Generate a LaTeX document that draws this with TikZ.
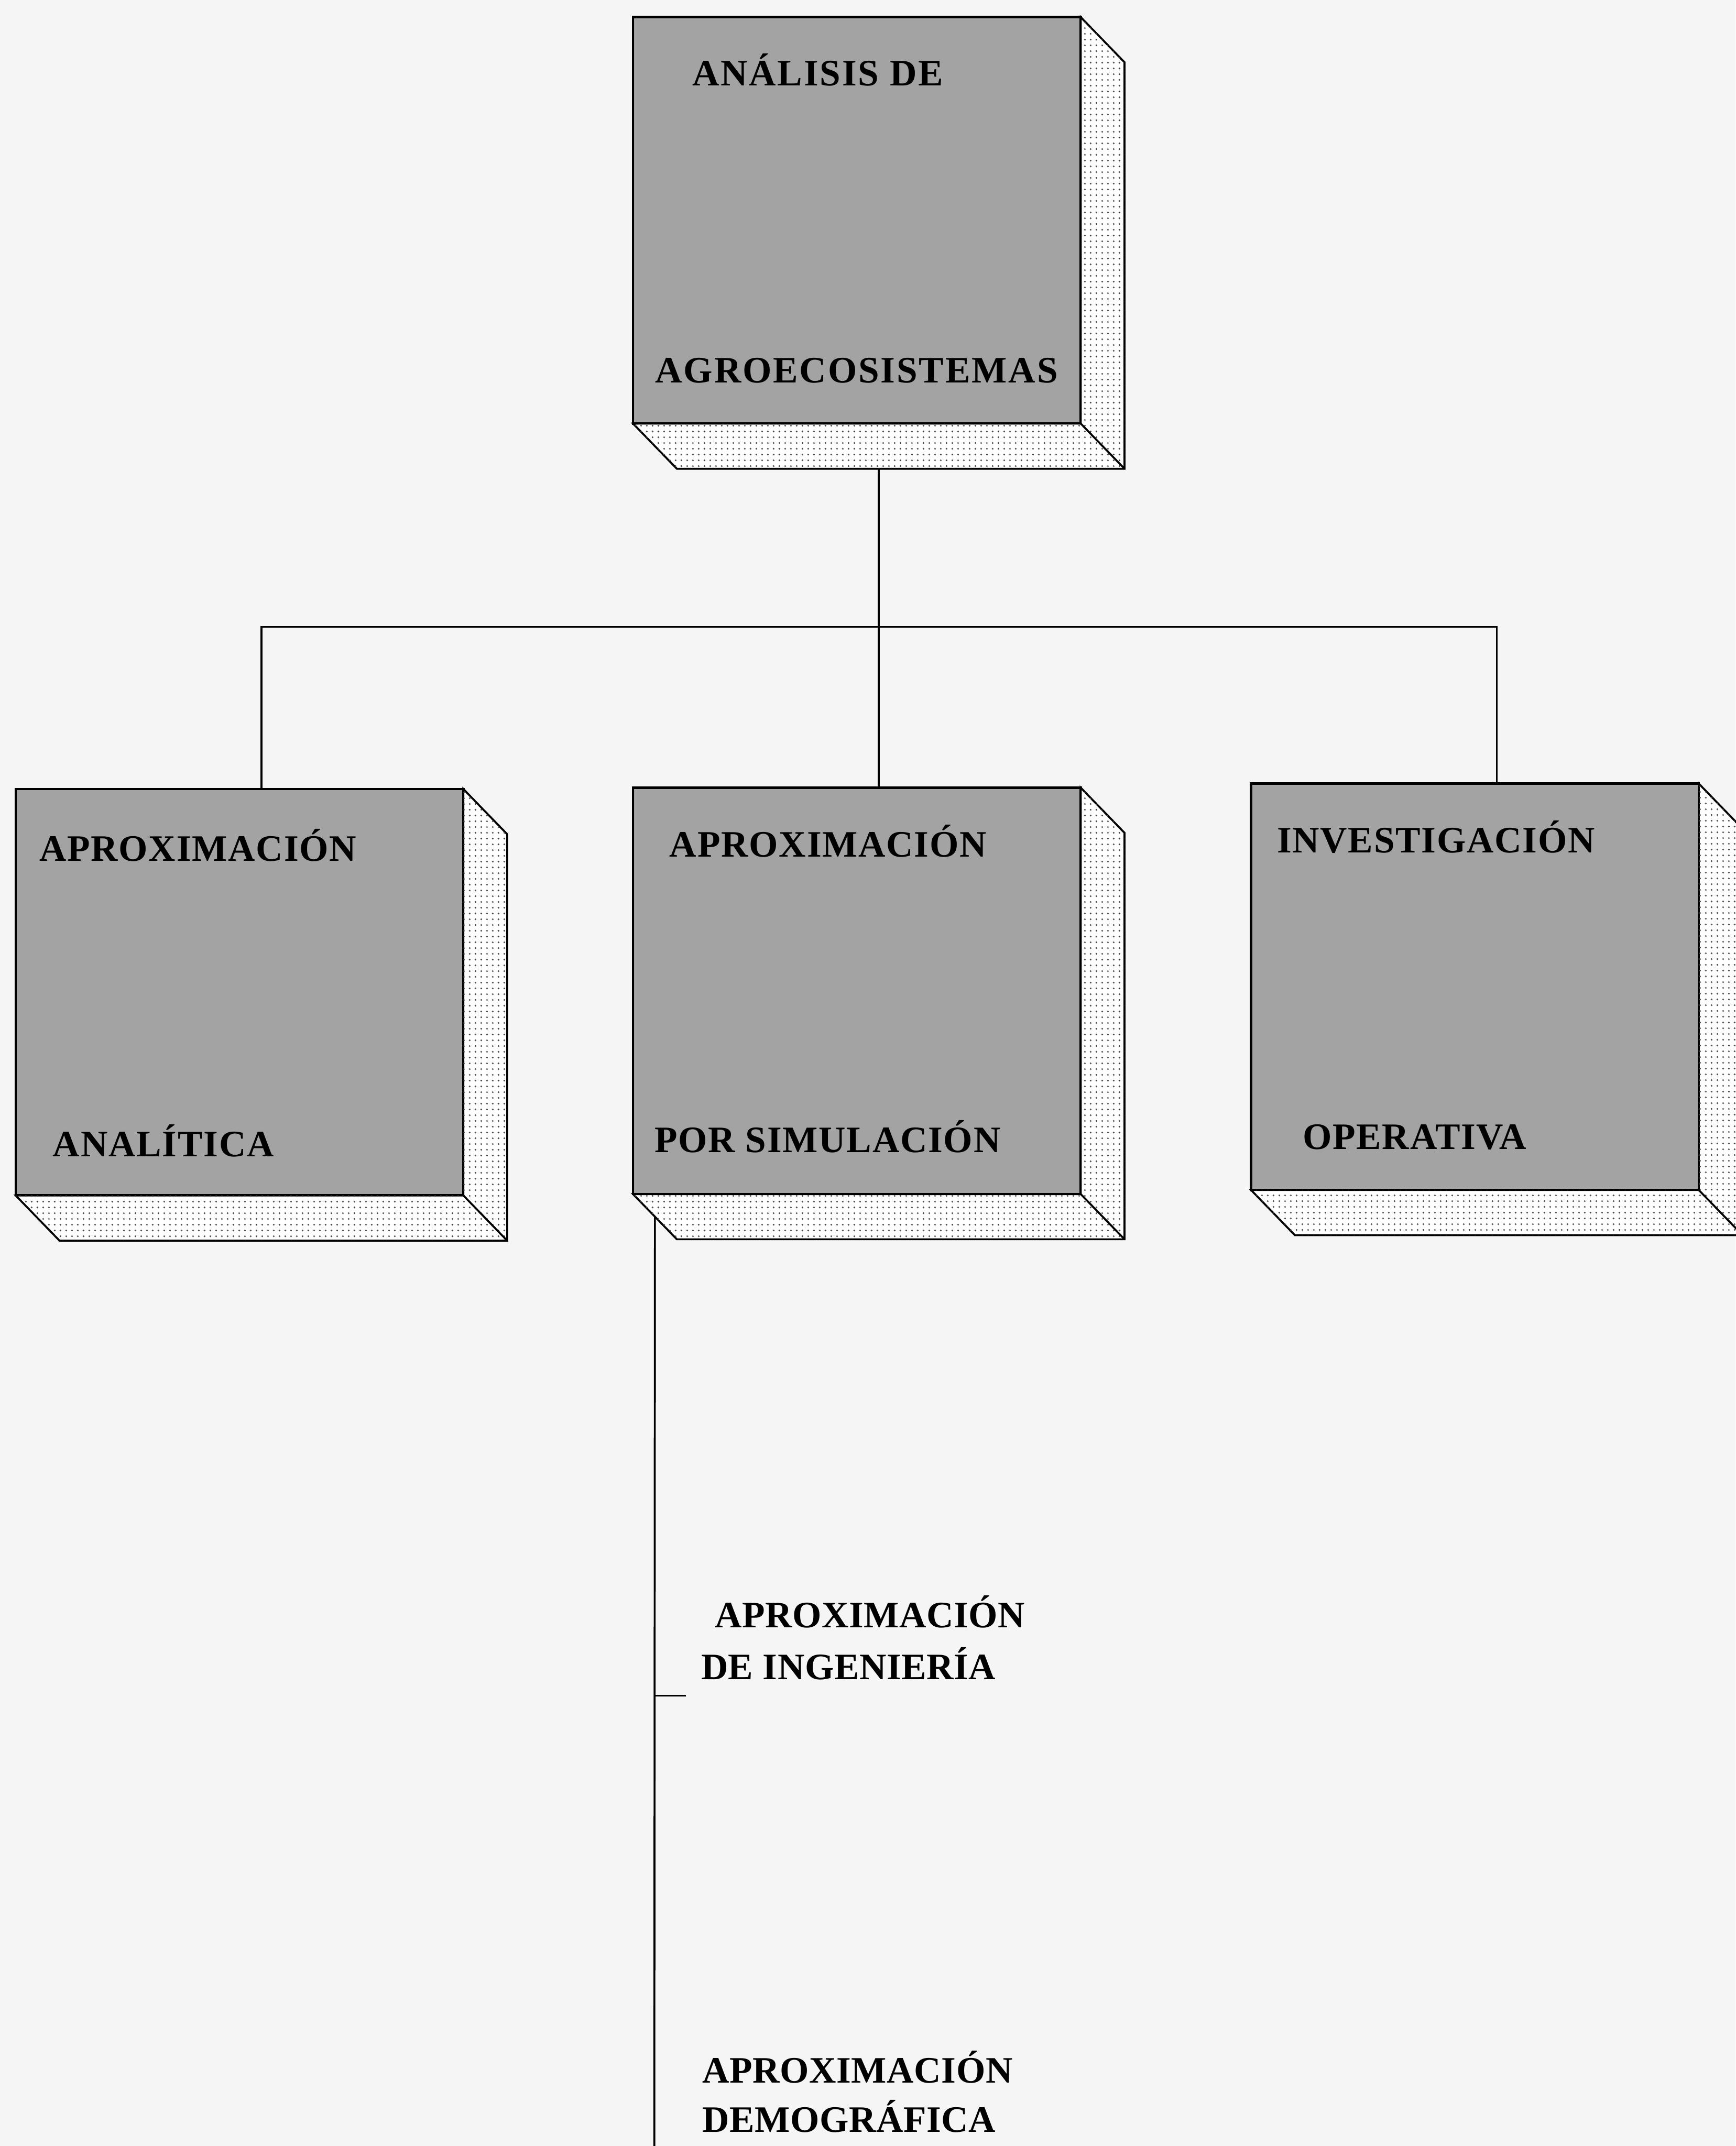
\documentclass[tikz,border=0pt]{standalone}
\usepackage{fontspec}
\setmainfont{Liberation Serif}
\newfontfamily\boxfont[LetterSpace=2.5]{Liberation Serif}
\newfontfamily\wideboxfont[LetterSpace=4]{Liberation Serif}
\newfontfamily\plainfont[LetterSpace=0.8]{Liberation Serif}
\usetikzlibrary{calc,patterns.meta}
\definecolor{facegray}{gray}{0.64}
\definecolor{paper}{gray}{0.96}
\tikzdeclarepattern{
  name=sidedots,
  type=uncolored,
  bounding box={(0pt,0pt) and (4pt,4pt)},
  tile size={(4pt,4pt)},
  code={\fill (2pt,2pt) circle (0.65pt);}
}
\tikzset{
  cube/.style={draw, line width=1.6pt, fill=facegray, minimum width=10.54cm,
    minimum height=9.57cm, inner sep=0pt, outer sep=0pt},
  side/.style={line width=1.3pt, fill=white,
    postaction={pattern=sidedots, pattern color=black!70}},
  lbl/.style={anchor=base west, inner sep=0pt,
    font=\boxfont\bfseries\fontsize{25}{35}\selectfont},
  widelbl/.style={lbl, font=\wideboxfont\bfseries\fontsize{25}{35}\selectfont},
  freelbl/.style={lbl, font=\plainfont\bfseries\fontsize{25}{35}\selectfont},
  wire/.style={line width=1.3pt}
}
\begin{document}
\begin{tikzpicture}[x=0.03223cm, y=-0.03223cm]
  \useasboundingbox (0,0) rectangle (1268,1568);
  \fill[paper] (0,0) rectangle (1268,1568);
  \node[cube] (agro) at (626,161) {};
  \node[cube] (anal) at (175,725) {};
  \node[cube] (simu) at (626,724) {};
  \node[cube] (oper) at (1077.5,721) {};
  \foreach \b in {agro,anal,simu,oper} {
    \filldraw[side] (\b.north east) -- ++(32,33) -- ($(\b.south east)+(32,33)$)
      -- ($(\b.south west)+(32,33)$) -- (\b.south west) -- (\b.south east) -- cycle;
    \draw[line width=1.3pt] (\b.south east) -- ++(32,33);
  }
  \node[widelbl] (agro1) at (505.5,62.6) {ANÁLISIS DE};
  \node[widelbl] (agro2) at (478.5,279.5) {AGROECOSISTEMAS};
  \node[lbl] (anal1) at (28.5,629) {APROXIMACIÓN};
  \node[lbl] (anal2) at (38.4,845) {ANALÍTICA};
  \node[lbl] (simu1) at (489,626) {APROXIMACIÓN};
  \node[lbl] (simu2) at (478,842) {POR SIMULACIÓN};
  \node[lbl] (oper1) at (932.7,623) {INVESTIGACIÓN};
  \node[lbl] (oper2) at (951.5,839.6) {OPERATIVA};
  \node[freelbl] (inge1) at (522,1189) {APROXIMACIÓN};
  \node[freelbl] (inge2) at (512,1227) {DE INGENIERÍA};
  \node[freelbl] (demo1) at (513,1522) {APROXIMACIÓN};
  \node[freelbl] (demo2) at (513,1558) {DEMOGRÁFICA};
  \coordinate (hub) at (642,458);
  \coordinate (agrofoot) at ($(agro.south)+(16,33)$);
  \coordinate (analcap) at ($(anal.north)+(16,0)$);
  \coordinate (simucap) at ($(simu.north)+(16,0)$);
  \coordinate (opercap) at ($(oper.north)+(16,0)$);
  \coordinate (simufoot) at ($(simu.south west)+(16,16.5)$);
  \coordinate (simuend) at (478,1568);
  \coordinate (ingetick) at (478,1239);
  \coordinate (ingeend) at (501,1239);
  \begin{scope}[wire]
    \draw (agrofoot) -- (hub);
    \draw (analcap) |- (hub) -| (opercap);
    \draw (hub) -- (simucap);
    \draw (simufoot) -- (simuend);
    \draw (ingetick) -- (ingeend);
  \end{scope}
\end{tikzpicture}
\end{document}
